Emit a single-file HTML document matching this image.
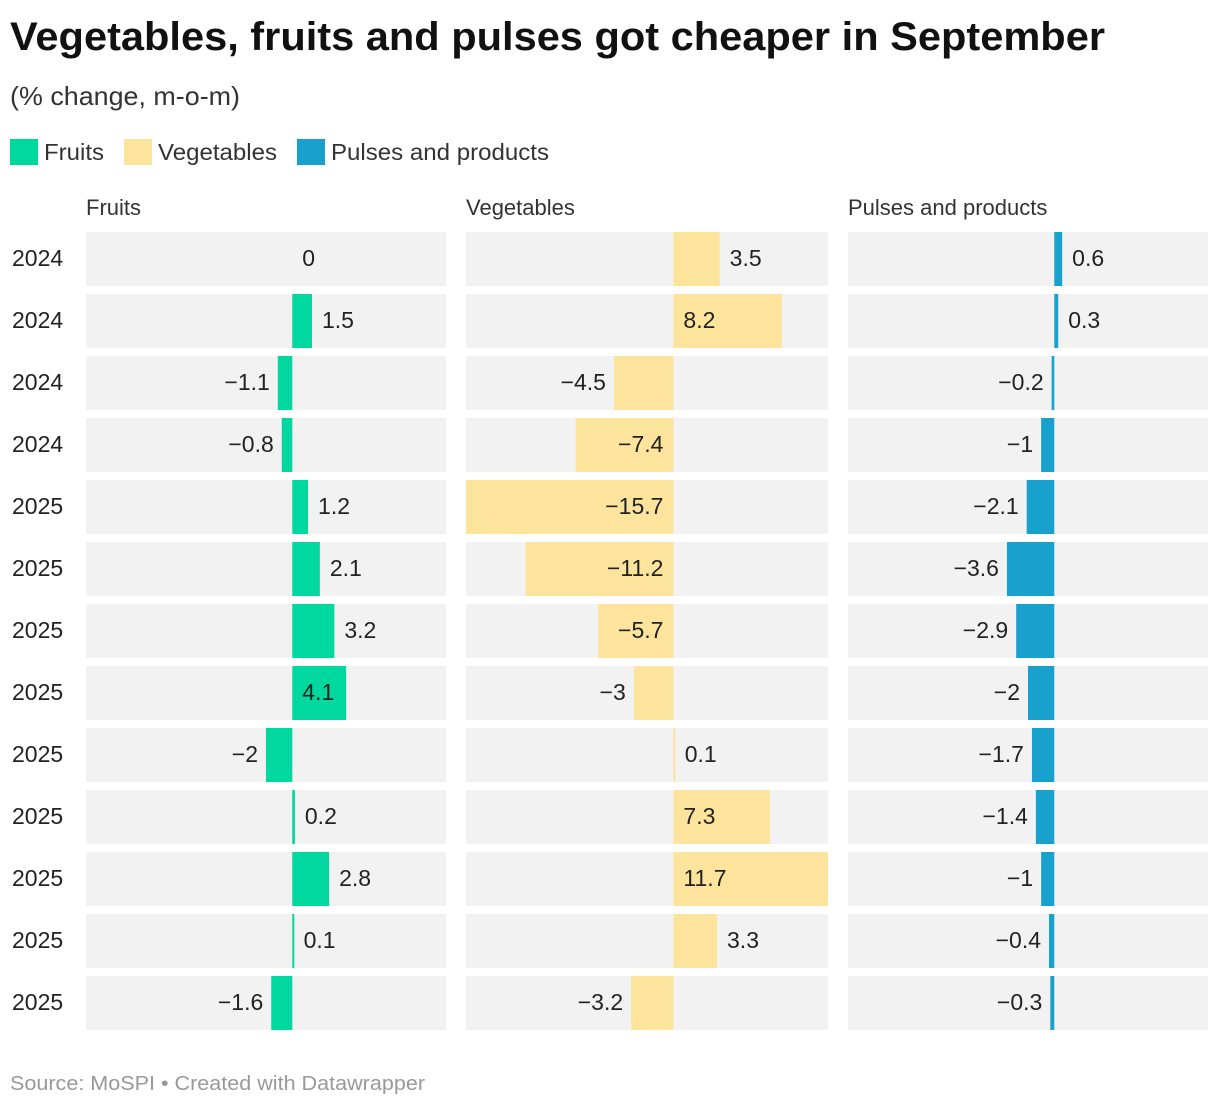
<!DOCTYPE html>
<html><head><meta charset="utf-8"><style>
body{margin:0;background:#fff;width:1220px;height:1106px;overflow:hidden;font-family:"Liberation Sans",sans-serif;color:#222}
</style></head><body>
<svg id="c" width="1220" height="1106" xmlns="http://www.w3.org/2000/svg" font-family="Liberation Sans, sans-serif">
<text x="10" y="50" font-size="40" font-weight="bold" fill="#111" textLength="1095" lengthAdjust="spacingAndGlyphs">Vegetables, fruits and pulses got cheaper in September</text>
<text x="10" y="105" font-size="26" fill="#333" textLength="230" lengthAdjust="spacingAndGlyphs">(% change, m-o-m)</text>
<g>
<rect x="10" y="139" width="28" height="26" fill="#00d8a0"/>
<text x="44" y="160" font-size="23" fill="#333" textLength="60" lengthAdjust="spacingAndGlyphs">Fruits</text>
<rect x="124" y="139" width="28" height="26" fill="#fde49c"/>
<text x="158" y="160" font-size="23" fill="#333" textLength="119" lengthAdjust="spacingAndGlyphs">Vegetables</text>
<rect x="297" y="139" width="28" height="26" fill="#18a1cd"/>
<text x="331" y="160" font-size="23" fill="#333" textLength="218" lengthAdjust="spacingAndGlyphs">Pulses and products</text>
</g>
<text x="10" y="1090" font-size="20" fill="#999" textLength="415" lengthAdjust="spacingAndGlyphs">Source: MoSPI • Created with Datawrapper</text>
</svg>
<script>
const years=["2024","2024","2024","2024","2025","2025","2025","2025","2025","2025","2025","2025","2025"];
const fruits=[0,1.5,-1.1,-0.8,1.2,2.1,3.2,4.1,-2,0.2,2.8,0.1,-1.6];
const vegetables=[3.5,8.2,-4.5,-7.4,-15.7,-11.2,-5.7,-3,0.1,7.3,11.7,3.3,-3.2];
const pulses=[0.6,0.3,-0.2,-1,-2.1,-3.6,-2.9,-2,-1.7,-1.4,-1,-0.4,-0.3];
const panelNames=["Fruits","Vegetables","Pulses and products"];
const NS="http://www.w3.org/2000/svg";
const svg=document.getElementById('c');
const all=fruits.concat(vegetables,pulses);
const dMin=Math.min(...all),dMax=Math.max(...all);
const rowTop=232,rowH=54,rowStep=62;
const panelX=[86,466,848];
const panelWs=[360,362,360];
const colors=["#00d8a0","#fde49c","#18a1cd"];
const series=[fruits,vegetables,pulses];
function xs(p,v){return panelX[p]+(v-dMin)/(dMax-dMin)*panelWs[p];}
function mk(tag,attrs){const e=document.createElementNS(NS,tag);for(const k in attrs)e.setAttribute(k,attrs[k]);svg.appendChild(e);return e;}
function fmt(v){return v<0?"\u2212"+Math.abs(v):String(v);}
years.forEach((y,i)=>{
  const t=mk('text',{x:12,y:rowTop+i*rowStep+rowH/2+7,'font-size':23,fill:'#222'});
  t.textContent=y;
  
  
});
series.forEach((s,p)=>{
  const h=mk('text',{x:panelX[p],y:215,'font-size':22,fill:'#333'});
  h.textContent=panelNames[p];
  
  
  s.forEach((v,i)=>{
    const ty=rowTop+i*rowStep;
    const bg=mk('rect',{x:panelX[p],y:ty,width:panelWs[p],height:rowH,fill:'#f2f2f2'});
    
    
    const x0=xs(p,0),x1=xs(p,v);
    const b=mk('rect',{x:Math.min(x0,x1),y:ty,width:Math.max(Math.abs(x1-x0),v===0?0:2),height:rowH,fill:colors[p]});
    
    
    const label=fmt(v);
    const tw=label.length*12.5;
    const w=Math.abs(x1-x0);
    const inside=w>tw+14&&w>=50;
    let tx,anchor;
    if(v>=0){anchor='start';tx=inside?x0+10:x1+10;}
    else{anchor='end';tx=inside?x0-10:x1-8;}
    const t=mk('text',{x:tx,y:ty+rowH/2+7,'font-size':23,fill:'#222','text-anchor':anchor});
    t.textContent=label;
    
    
  });
});
</script>
</body></html>
